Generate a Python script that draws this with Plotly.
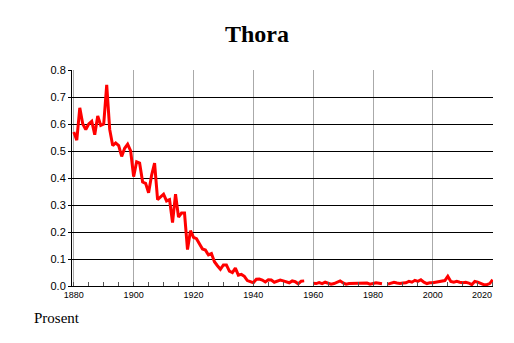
import plotly.graph_objects as go

title_text = "Thora"
y_label = "Prosent"

years = list(range(1880, 2021))
values = [
    0.57, 0.54, 0.66, 0.60, 0.58, 0.60, 0.61, 0.56, 0.63, 0.595,   # 1880-1889
    0.60, 0.745, 0.58, 0.52, 0.53, 0.52, 0.48, 0.51, 0.525, 0.50,   # 1890-1899
    0.405, 0.46, 0.455, 0.385, 0.38, 0.345, 0.41, 0.455, 0.32, 0.33, # 1900-1909
    0.34, 0.315, 0.32, 0.235, 0.34, 0.255, 0.27, 0.27, 0.135, 0.205, # 1910-1919
    0.18, 0.175, 0.153, 0.137, 0.133, 0.115, 0.12, 0.09, 0.075, 0.062, # 1920-1929
    0.078, 0.078, 0.055, 0.05, 0.066, 0.04, 0.043, 0.036, 0.02, 0.015, # 1930-1939
    0.012, 0.025, 0.026, 0.022, 0.015, 0.023, 0.022, 0.014, 0.018, 0.022, # 1940-1949
    0.019, 0.016, 0.012, 0.019, 0.016, 0.008, 0.018, 0.019, None, None,   # 1950-1959
    0.01, 0.009, 0.013, 0.009, 0.014, 0.009, 0.007, 0.009, 0.015, 0.019, # 1960-1969
    0.011, 0.007, 0.009, 0.009, 0.009, 0.011, 0.009, 0.009, 0.011, 0.007, # 1970-1979
    0.01, 0.012, 0.01, 0.008, None, 0.007, 0.011, 0.014, 0.011, 0.009,   # 1980-1989
    0.011, 0.012, 0.017, 0.014, 0.021, 0.017, 0.023, 0.014, 0.009, 0.012, # 1990-1999
    0.012, 0.014, 0.017, 0.02, 0.02, 0.036, 0.017, 0.014, 0.017, 0.014,  # 2000-2009
    0.012, 0.014, 0.011, 0.005, 0.017, 0.014, 0.009, 0.005, 0.005, 0.009, # 2010-2019
    0.023,                                                                # 2020
]

x_tick_vals = [1880, 1900, 1920, 1940, 1960, 1980, 2000]
x_tick_text = ["1880", "1900", "1920", "1940", "1960", "1980", "2000"]
last_tick = 2020
y_tick_vals = [0.0, 0.1, 0.2, 0.3, 0.4, 0.5, 0.6, 0.7, 0.8]

# page body has an 8px margin, so the figure is sized to fit inside it
W, H = 506, 335

fig = go.Figure()
fig.add_trace(go.Scatter(
    x=years, y=values, mode="lines",
    line=dict(color="#ff0000", width=3),
    connectgaps=False, hoverinfo="skip", showlegend=False,
))

fig.update_layout(
    width=W, height=H,
    margin=dict(l=64, r=21, t=62, b=57),
    paper_bgcolor="white", plot_bgcolor="white",
    title=dict(
        text="<b>" + title_text + "</b>",
        font=dict(family="Liberation Serif", size=24, color="black"),
        x=249 / W, xref="container", xanchor="center",
        y=1 - 26 / H, yref="container", yanchor="middle",
    ),
)

fig.update_xaxes(
    range=[1879.4, 2020.1],
    tickvals=x_tick_vals, ticktext=x_tick_text,
    showgrid=True, gridcolor="#aaaaaa", gridwidth=1,
    showline=True, linecolor="black", linewidth=1,
    ticks="", ticklen=0,
    tickfont=dict(family="Liberation Sans", size=9, color="black"),
    minor=dict(dtick=5, tick0=1880, ticks="inside", ticklen=4,
               tickcolor="#555555", showgrid=False),
    zeroline=False, fixedrange=True,
)
fig.update_yaxes(
    range=[0, 0.8],
    tickvals=y_tick_vals, tickformat=".1f",
    showgrid=True, gridcolor="black", gridwidth=1,
    showline=True, linecolor="black", linewidth=1,
    ticks="outside", ticklen=3, tickcolor="black",
    tickfont=dict(family="Liberation Sans", size=11, color="black"),
    zeroline=False, fixedrange=True,
)

fig.add_annotation(
    x=last_tick, y=0, xref="x", yref="paper",
    text=str(last_tick), showarrow=False,
    xanchor="right", yanchor="top", yshift=-2, xshift=1,
    font=dict(family="Liberation Sans", size=9, color="black"),
)
fig.add_annotation(
    x=-0.095, y=-0.148, xref="paper", yref="paper",
    text=y_label, showarrow=False, xanchor="left", yanchor="middle",
    font=dict(family="Liberation Serif", size=15, color="black"),
)

fig.write_html("out.html")
